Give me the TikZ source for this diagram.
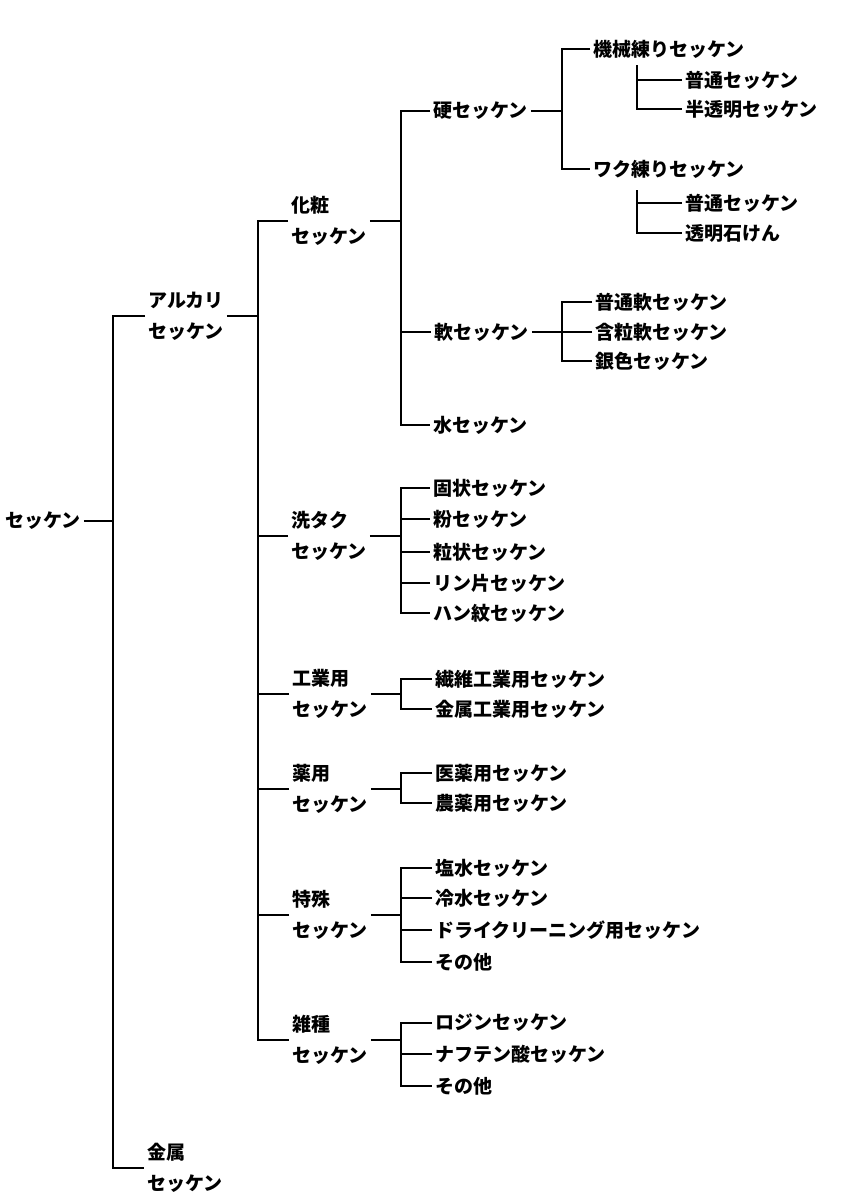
\documentclass[tikz,border=0pt]{standalone}
\usepackage{fontspec}
\newfontfamily\jp{Noto Sans CJK JP}
\begin{document}
\begin{tikzpicture}[x=1pt,y=-1pt,
  lbl/.style={anchor=west, inner xsep=3pt, inner ysep=0pt, font=\jp\bfseries\fontsize{19}{31}\selectfont, align=left},
  conn/.style={draw=black, line width=2.2pt}]
\useasboundingbox (0,0) rectangle (866,1200);
\fill[white] (0,0) rectangle (866,1200);
% bus x positions
\coordinate (b0) at (113,0);
\coordinate (b1) at (258,0);
\coordinate (b2) at (401,0);
\coordinate (b3) at (562,0);
\coordinate (j1) at (637,65);
\coordinate (j2) at (637,190);
% level 0-1
\node[lbl] (root) at (2,521) {セッケン};
\node[lbl] (alk) at (145,316) {アルカリ\\セッケン};
\node[lbl] (kin) at (144,1168) {金属\\セッケン};
% level 2
\node[lbl] (kesho) at (288,221) {化粧\\セッケン};
\node[lbl] (sentaku) at (288,536) {洗タク\\セッケン};
\node[lbl] (kogyo) at (289,694) {工業用\\セッケン};
\node[lbl] (yaku) at (289,789) {薬用\\セッケン};
\node[lbl] (tokushu) at (289,915) {特殊\\セッケン};
\node[lbl] (zasshu) at (289,1040) {雑種\\セッケン};
% level 3 (化粧)
\node[lbl] (ko) at (430,111) {硬セッケン};
\node[lbl] (nan) at (431,332) {軟セッケン};
\node[lbl] (mizu) at (430,425) {水セッケン};
\node[lbl] (kikai) at (590,49) {機械練りセッケン};
\node[lbl] (waku) at (590,169) {ワク練りセッケン};
\node[lbl] (f1) at (682,80) {普通セッケン};
\node[lbl] (ht) at (682,109) {半透明セッケン};
\node[lbl] (f2) at (682,203) {普通セッケン};
\node[lbl] (tm) at (682,233) {透明石けん};
\node[lbl] (fn) at (592,302) {普通軟セッケン};
\node[lbl] (gr) at (592,332) {含粒軟セッケン};
\node[lbl] (gs) at (592,361) {銀色セッケン};
% 洗タク
\node[lbl] (s1) at (430,488) {固状セッケン};
\node[lbl] (s2) at (430,519) {粉セッケン};
\node[lbl] (s3) at (430,552) {粒状セッケン};
\node[lbl] (s4) at (430,583) {リン片セッケン};
\node[lbl] (s5) at (430,613) {ハン紋セッケン};
% 工業用
\node[lbl] (k1) at (432,679) {繊維工業用セッケン};
\node[lbl] (k2) at (432,709) {金属工業用セッケン};
% 薬用
\node[lbl] (y1) at (432,773) {医薬用セッケン};
\node[lbl] (y2) at (432,803) {農薬用セッケン};
% 特殊
\node[lbl] (t1) at (432,868) {塩水セッケン};
\node[lbl] (t2) at (432,898) {冷水セッケン};
\node[lbl] (t3) at (432,930) {ドライクリーニング用セッケン};
\node[lbl] (t4) at (432,962) {その他};
% 雑種
\node[lbl] (z1) at (432,1023) {ロジンセッケン};
\node[lbl] (z2) at (432,1054) {ナフテン酸セッケン};
\node[lbl] (z3) at (432,1086) {その他};

% connectors
\draw[conn] (root.east) -- (root.east -| b0);
\draw[conn] (alk.west) -- (alk.west -| b0) |- (kin.west);
\draw[conn] (alk.east) -- (alk.east -| b1);
\draw[conn] (kesho.west) -- (kesho.west -| b1) |- (zasshu.west);
\foreach \n in {sentaku,kogyo,yaku,tokushu} \draw[conn] (\n.west) -- (\n.west -| b1);
% 化粧
\draw[conn] (kesho.east) -- (kesho.east -| b2);
\draw[conn] (ko.west) -- (ko.west -| b2) |- (mizu.west);
\draw[conn] (nan.west) -- (nan.west -| b2);
\draw[conn] (ko.east) -- (ko.east -| b3);
\draw[conn] (kikai.west) -- (kikai.west -| b3) |- (waku.west);
\draw[conn] (j1) |- (ht.west);
\draw[conn] (f1.west) -- (f1.west -| j1);
\draw[conn] (j2) |- (tm.west);
\draw[conn] (f2.west) -- (f2.west -| j2);
\draw[conn] (nan.east) -- (nan.east -| b3);
\draw[conn] (fn.west) -- (fn.west -| b3) |- (gs.west);
\draw[conn] (gr.west) -- (gr.west -| b3);
% 洗タク
\draw[conn] (sentaku.east) -- (sentaku.east -| b2);
\draw[conn] (s1.west) -- (s1.west -| b2) |- (s5.west);
\foreach \n in {s2,s3,s4} \draw[conn] (\n.west) -- (\n.west -| b2);
% 工業用
\draw[conn] (kogyo.east) -- (kogyo.east -| b2);
\draw[conn] (k1.west) -- (k1.west -| b2) |- (k2.west);
% 薬用
\draw[conn] (yaku.east) -- (yaku.east -| b2);
\draw[conn] (y1.west) -- (y1.west -| b2) |- (y2.west);
% 特殊
\draw[conn] (tokushu.east) -- (tokushu.east -| b2);
\draw[conn] (t1.west) -- (t1.west -| b2) |- (t4.west);
\foreach \n in {t2,t3} \draw[conn] (\n.west) -- (\n.west -| b2);
% 雑種
\draw[conn] (zasshu.east) -- (zasshu.east -| b2);
\draw[conn] (z1.west) -- (z1.west -| b2) |- (z3.west);
\draw[conn] (z2.west) -- (z2.west -| b2);
\end{tikzpicture}
\end{document}
